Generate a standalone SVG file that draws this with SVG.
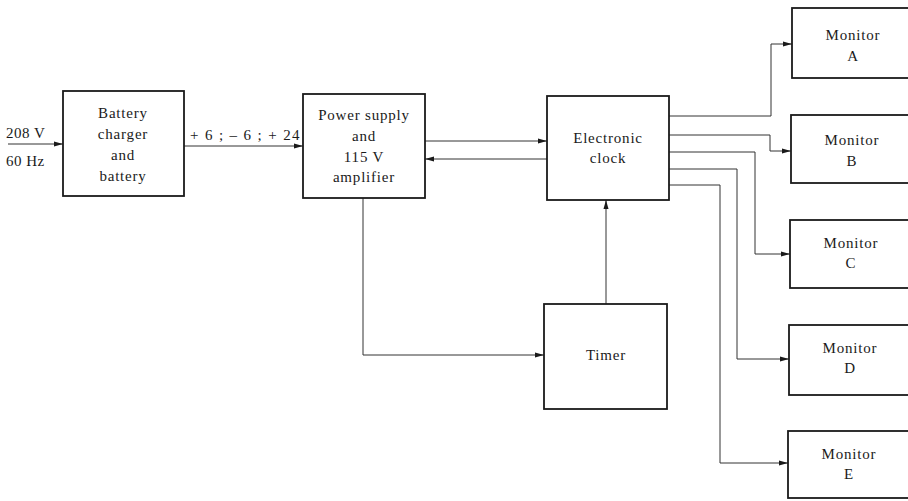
<svg xmlns="http://www.w3.org/2000/svg" width="908" height="501" viewBox="0 0 908 501">
<defs>
<marker id="ah" markerWidth="9" markerHeight="7" refX="9" refY="3.5" orient="auto" markerUnits="userSpaceOnUse">
<path d="M0,1 L9,3.5 L0,6 Z" fill="#1a1a1a"/>
</marker>
</defs>
<style>
.box{fill:#fff;stroke:#1a1a1a;stroke-width:1.8}
.t{font-family:"Liberation Serif","Times New Roman",serif;font-size:15px;fill:#1a1a1a;text-anchor:middle;letter-spacing:0.8px}
.tl{font-family:"Liberation Serif","Times New Roman",serif;font-size:15px;fill:#1a1a1a;letter-spacing:0.5px}
.c{fill:none;stroke:#333;stroke-width:1;marker-end:url(#ah)}
</style>
<rect width="908" height="501" fill="#fff"/>
<g id="connectors">
<path class="c" d="M8,144 H63"/>
<path class="c" d="M184,146 H303"/>
<path class="c" d="M425,141 H547"/>
<path class="c" d="M547,159 H425"/>
<path class="c" d="M363,198 V355 H544"/>
<path class="c" d="M606,304 V200"/>
<path class="c" d="M669,116 H771 V44 H792"/>
<path class="c" d="M669,135 H770 V151 H791"/>
<path class="c" d="M669,152 H755 V254 H790"/>
<path class="c" d="M669,169 H737 V359 H789"/>
<path class="c" d="M669,185 H720 V463 H788"/>
</g>
<g id="input-label">
<text class="tl" x="6" y="138">208 V</text>
<text class="tl" x="6" y="166">60 Hz</text>
</g>
<g id="edge-label">
<text class="tl" x="190" y="140" textLength="110" lengthAdjust="spacing">+ 6 ; – 6 ; + 24</text>
</g>
<g id="battery">
<rect class="box" x="63" y="91" width="121" height="105"/>
<text class="t" x="123" y="118">Battery</text>
<text class="t" x="123" y="139">charger</text>
<text class="t" x="123" y="160">and</text>
<text class="t" x="123" y="181">battery</text>
</g>
<g id="power">
<rect class="box" x="303" y="94" width="122" height="104"/>
<text class="t" x="364" y="120">Power supply</text>
<text class="t" x="364" y="141">and</text>
<text class="t" x="364" y="162">115 V</text>
<text class="t" x="364" y="182">amplifier</text>
</g>
<g id="clock">
<rect class="box" x="547" y="96" width="122" height="104"/>
<text class="t" x="608" y="143">Electronic</text>
<text class="t" x="608" y="163">clock</text>
</g>
<g id="timer">
<rect class="box" x="544" y="304" width="123" height="105"/>
<text class="t" x="606" y="360">Timer</text>
</g>
<g id="monA">
<rect class="box" x="792" y="8" width="130" height="70"/>
<text class="t" x="853" y="40">Monitor</text>
<text class="t" x="853" y="61">A</text>
</g>
<g id="monB">
<rect class="box" x="791" y="115" width="130" height="68"/>
<text class="t" x="852" y="145">Monitor</text>
<text class="t" x="852" y="166">B</text>
</g>
<g id="monC">
<rect class="box" x="790" y="220" width="130" height="68"/>
<text class="t" x="851" y="248">Monitor</text>
<text class="t" x="851" y="268">C</text>
</g>
<g id="monD">
<rect class="box" x="789" y="325" width="130" height="70"/>
<text class="t" x="850" y="353">Monitor</text>
<text class="t" x="850" y="373">D</text>
</g>
<g id="monE">
<rect class="box" x="788" y="431" width="130" height="67"/>
<text class="t" x="849" y="459">Monitor</text>
<text class="t" x="849" y="479">E</text>
</g>
</svg>
